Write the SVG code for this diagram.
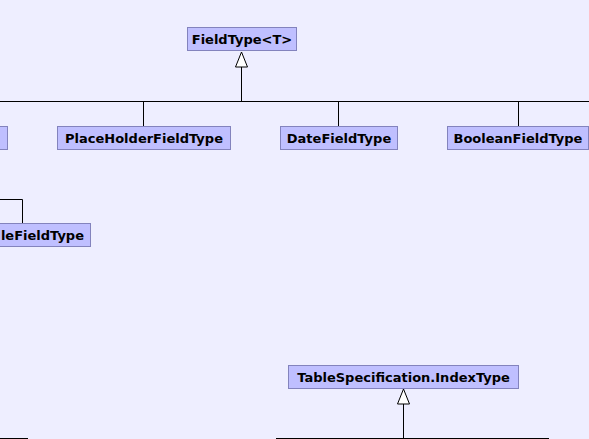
<svg xmlns="http://www.w3.org/2000/svg" width="589" height="439" viewBox="0 0 589 439">
<style>
.n rect{fill:#bfbfff;stroke:#8383bd;stroke-width:1}
.n text{font-family:"DejaVu Sans",sans-serif;font-weight:bold;font-size:13px;fill:#000;text-anchor:middle;dominant-baseline:central}
.e{stroke:#000;stroke-width:1;fill:none}
.h{fill:#fff;stroke:#000;stroke-width:1}
</style>
<rect width="589" height="439" fill="#eeeeff"/>
<g id="connectors">
<path class="e" d="M0,101.5H589"/>
<path class="e" d="M241.5,101.5V67"/>
<polygon class="h" points="241.5,52 235.5,67 247.5,67"/>
<path class="e" d="M143.5,101.5V126"/>
<path class="e" d="M338.5,101.5V126"/>
<path class="e" d="M518.5,101.5V126"/>
<path class="e" d="M22.5,224V199.5H0"/>
<path class="e" d="M0,438.5H28"/>
<path class="e" d="M276,438.5H549"/>
<path class="e" d="M403.5,438.5V404"/>
<polygon class="h" points="403.5,389 397.5,404 409.5,404"/>
</g>
<g id="FieldType" class="n"><rect x="187.5" y="27.5" width="109" height="23"/><text x="242" y="39">FieldType&lt;T&gt;</text></g>
<g id="LeftCut" class="n"><rect x="-10.5" y="126.5" width="18" height="23"/></g>
<g id="PlaceHolderFieldType" class="n"><rect x="57.5" y="126.5" width="173" height="23"/><text x="144" y="138">PlaceHolderFieldType</text></g>
<g id="DateFieldType" class="n"><rect x="280.5" y="126.5" width="117" height="23"/><text x="339" y="138">DateFieldType</text></g>
<g id="BooleanFieldType" class="n"><rect x="447.5" y="126.5" width="141" height="23"/><text x="518" y="138">BooleanFieldType</text></g>
<g id="SubFieldType" class="n"><rect x="-60.5" y="223.5" width="151" height="23"/><text x="84" y="235" style="text-anchor:end">leFieldType</text></g>
<g id="IndexType" class="n"><rect x="288.5" y="365.5" width="230" height="23"/><text x="403.5" y="377">TableSpecification.IndexType</text></g>
</svg>
